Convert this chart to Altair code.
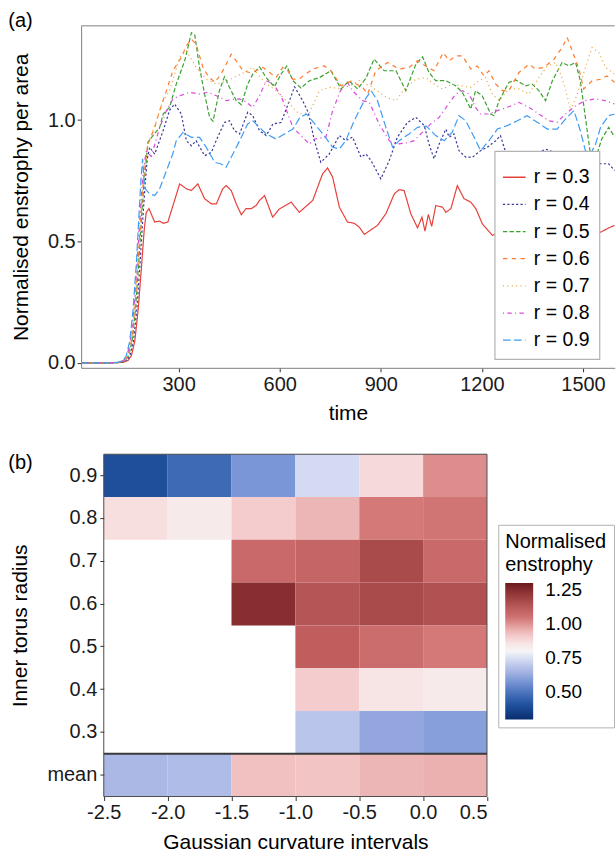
import altair as alt
import pandas as pd

FONT = "Liberation Sans"

# ---------------- panel (a): enstrophy time series ----------------
series_labels = ["r = 0.3", "r = 0.4", "r = 0.5", "r = 0.6", "r = 0.7", "r = 0.8", "r = 0.9"]
series_colors = ["#e8403a", "#38389c", "#3aa231", "#ff7a2a", "#e6aa3e", "#d94ad8", "#3e9cf5"]
series_dashes = [[1, 0], [2.2, 2.2], [4.4, 2.2], [4.4, 4.4], [1.1, 3.3], [1.1, 3.3, 4.4, 3.3], [7.7, 3.3]]

r03 = [(10, 0), (100, 0), (135, 0.002), (150, 0.01), (160, 0.03), (170, 0.09), (180, 0.22), (190, 0.40),
       (198, 0.55), (204, 0.62), (212, 0.635), (229, 0.58), (244, 0.584), (254, 0.575), (268, 0.58),
       (288, 0.669), (303, 0.737), (323, 0.717), (338, 0.71), (357, 0.737), (377, 0.676), (397, 0.655),
       (412, 0.655), (431, 0.717), (441, 0.73), (456, 0.71), (471, 0.655), (486, 0.61), (500, 0.635),
       (515, 0.635), (530, 0.648), (540, 0.669), (555, 0.689), (579, 0.60), (599, 0.634), (634, 0.662),
       (658, 0.62), (698, 0.669), (727, 0.778), (742, 0.803), (757, 0.765), (777, 0.641), (801, 0.58),
       (821, 0.575), (836, 0.559), (851, 0.529), (871, 0.548), (890, 0.566), (915, 0.614), (940, 0.696),
       (954, 0.713), (969, 0.71), (989, 0.614), (1009, 0.556), (1022, 0.60), (1031, 0.543), (1041, 0.611),
       (1051, 0.562), (1063, 0.648), (1083, 0.641), (1093, 0.62), (1108, 0.635), (1127, 0.73), (1147, 0.676),
       (1167, 0.662), (1182, 0.635), (1201, 0.573), (1231, 0.525), (1280, 0.55), (1340, 0.58), (1400, 0.56),
       (1460, 0.59), (1510, 0.55), (1552, 0.538), (1575, 0.555), (1594, 0.566)]

r04 = [(10, 0), (100, 0), (130, 0.002), (146, 0.01), (156, 0.03), (166, 0.09), (176, 0.22), (186, 0.42),
       (194, 0.60), (201, 0.74), (207, 0.84), (214, 0.888), (229, 0.86), (254, 0.956), (273, 1.04),
       (288, 1.066), (308, 1.025), (323, 0.915), (338, 0.894), (352, 0.915), (377, 0.853), (397, 0.867),
       (416, 0.93), (436, 0.99), (451, 0.997), (466, 0.956), (481, 0.943), (505, 1.032), (520, 1.018),
       (540, 0.956), (560, 0.936), (580, 0.984), (604, 0.99), (629, 1.08), (644, 1.137), (668, 1.08),
       (685, 1.03), (703, 0.915), (722, 0.826), (747, 0.86), (777, 0.936), (796, 0.915), (816, 0.93),
       (841, 0.847), (856, 0.86), (871, 0.833), (900, 0.758), (925, 0.833), (949, 0.929), (979, 0.99),
       (1004, 1.011), (1029, 0.977), (1043, 0.901), (1058, 0.84), (1073, 0.901), (1093, 0.963), (1103, 0.929),
       (1117, 0.943), (1132, 0.874), (1152, 0.847), (1172, 0.847), (1196, 0.874), (1216, 0.888), (1241, 0.915),
       (1255, 0.936), (1270, 0.87), (1300, 0.84), (1340, 0.85), (1389, 0.88), (1430, 0.86), (1470, 0.84),
       (1510, 0.85), (1552, 0.82), (1576, 0.82), (1594, 0.792)]

r05 = [(10, 0), (100, 0), (126, 0.002), (142, 0.01), (152, 0.03), (162, 0.09), (172, 0.22), (182, 0.42),
       (190, 0.60), (197, 0.74), (203, 0.82), (209, 0.91), (224, 0.936), (244, 0.97), (254, 1.025),
       (273, 1.052), (293, 1.148), (318, 1.244), (338, 1.36), (348, 1.35), (362, 1.217), (377, 1.107),
       (392, 1.011), (402, 0.995), (421, 1.121), (436, 1.178), (451, 1.134), (471, 1.08), (486, 1.063),
       (505, 1.148), (520, 1.189), (540, 1.219), (560, 1.175), (584, 1.137), (604, 1.189), (621, 1.223),
       (639, 1.162), (663, 1.132), (688, 1.162), (718, 1.175), (752, 1.203), (782, 1.128), (806, 1.162),
       (831, 1.128), (856, 1.173), (880, 1.251), (910, 1.203), (945, 1.203), (974, 1.121), (1004, 1.23),
       (1024, 1.26), (1043, 1.196), (1063, 1.162), (1093, 1.162), (1122, 1.141), (1142, 1.114), (1167, 1.045),
       (1181, 1.121), (1201, 1.10), (1226, 1.025), (1236, 1.018), (1251, 1.08), (1280, 1.155), (1300, 1.165),
       (1330, 1.141), (1349, 1.148), (1369, 1.121), (1389, 1.08), (1409, 1.162), (1438, 1.237), (1458, 1.223),
       (1478, 1.237), (1492, 1.162), (1507, 1.011), (1522, 0.86), (1537, 0.84), (1555, 0.92), (1576, 0.97),
       (1594, 0.93)]

r06 = [(10, 0), (100, 0), (124, 0.002), (140, 0.01), (150, 0.03), (160, 0.09), (170, 0.22), (180, 0.42),
       (188, 0.60), (195, 0.74), (201, 0.82), (209, 0.90), (229, 0.97), (244, 1.04), (264, 1.121),
       (283, 1.203), (308, 1.258), (323, 1.306), (338, 1.333), (352, 1.312), (372, 1.217), (387, 1.182),
       (407, 1.155), (426, 1.189), (441, 1.23), (456, 1.271), (471, 1.244), (491, 1.203), (510, 1.196),
       (530, 1.203), (550, 1.217), (570, 1.196), (589, 1.175), (609, 1.217), (624, 1.203), (639, 1.168),
       (658, 1.17), (698, 1.21), (732, 1.223), (752, 1.203), (782, 1.141), (812, 1.16), (846, 1.135),
       (861, 1.107), (885, 1.203), (920, 1.237), (954, 1.21), (984, 1.217), (1009, 1.244), (1033, 1.223),
       (1058, 1.203), (1085, 1.278), (1103, 1.244), (1122, 1.264), (1142, 1.264), (1167, 1.21), (1186, 1.223),
       (1206, 1.182), (1221, 1.203), (1241, 1.148), (1261, 1.121), (1280, 1.121), (1310, 1.196), (1340, 1.23),
       (1359, 1.21), (1384, 1.217), (1414, 1.251), (1438, 1.299), (1453, 1.34), (1468, 1.285), (1488, 1.21),
       (1502, 1.128), (1527, 1.162), (1552, 1.168), (1571, 1.182), (1594, 1.155)]

r07 = [(10, 0), (100, 0), (124, 0.002), (139, 0.01), (149, 0.03), (159, 0.09), (169, 0.22), (179, 0.42),
       (187, 0.60), (194, 0.74), (200, 0.82), (209, 0.90), (234, 0.997), (254, 1.08), (273, 1.12),
       (303, 1.258), (323, 1.285), (352, 1.217), (382, 1.168), (412, 1.148), (441, 1.16), (471, 1.18),
       (500, 1.20), (520, 1.217), (540, 1.18), (560, 1.15), (589, 1.121), (619, 1.08), (658, 1.025),
       (688, 1.03), (718, 1.121), (747, 1.135), (777, 1.13), (806, 1.14), (836, 1.162), (875, 1.135),
       (915, 1.094), (945, 1.08), (974, 1.135), (1004, 1.168), (1033, 1.175), (1058, 1.148), (1083, 1.128),
       (1112, 1.148), (1142, 1.14), (1167, 1.135), (1191, 1.162), (1211, 1.175), (1231, 1.107), (1251, 1.08),
       (1280, 1.128), (1310, 1.128), (1340, 1.107), (1369, 1.175), (1394, 1.223), (1419, 1.237), (1433, 1.19),
       (1448, 1.128), (1463, 1.039), (1483, 1.107), (1507, 1.217), (1527, 1.299), (1547, 1.278), (1567, 1.217),
       (1594, 1.189)]

r08 = [(10, 0), (100, 0), (122, 0.002), (137, 0.01), (147, 0.03), (157, 0.09), (167, 0.22), (177, 0.42),
       (185, 0.60), (192, 0.74), (198, 0.82), (204, 0.87), (219, 0.85), (244, 0.97), (264, 1.039),
       (283, 1.087), (303, 1.10), (333, 1.114), (362, 1.107), (387, 1.115), (412, 1.10), (441, 1.08),
       (461, 1.085), (481, 1.087), (500, 1.075), (520, 1.052), (540, 1.10), (560, 1.162), (580, 1.15),
       (604, 1.10), (639, 0.97), (668, 0.929), (688, 0.901), (703, 0.922), (737, 0.929), (757, 1.039),
       (780, 1.12), (801, 1.155), (816, 1.121), (846, 1.08), (866, 1.073), (895, 0.984), (925, 0.915),
       (949, 0.901), (974, 0.905), (999, 0.915), (1024, 0.95), (1048, 0.984), (1073, 1.011), (1098, 1.06),
       (1122, 1.107), (1142, 1.121), (1162, 1.107), (1181, 1.052), (1196, 1.025), (1221, 1.025), (1246, 1.039),
       (1280, 1.055), (1310, 1.073), (1340, 1.052), (1369, 1.025), (1399, 0.997), (1423, 0.991), (1448, 1.025),
       (1478, 1.059), (1507, 1.08), (1537, 1.087), (1566, 1.08), (1594, 1.066)]

r09 = [(10, 0), (100, 0), (120, 0.002), (135, 0.01), (145, 0.03), (155, 0.09), (165, 0.22), (175, 0.42),
       (182, 0.60), (188, 0.75), (193, 0.84), (199, 0.72), (214, 0.696), (229, 0.689), (244, 0.718),
       (264, 0.792), (283, 0.862), (293, 0.915), (313, 0.949), (338, 0.929), (362, 0.929), (382, 0.888),
       (407, 0.826), (426, 0.819), (441, 0.806), (461, 0.86), (481, 0.915), (505, 0.984), (520, 0.997),
       (540, 0.97), (560, 0.943), (589, 0.922), (614, 0.943), (639, 0.963), (660, 1.011), (680, 1.025),
       (708, 0.977), (732, 0.936), (757, 0.888), (777, 0.881), (796, 0.915), (821, 0.997), (851, 1.08),
       (871, 1.121), (890, 1.08), (915, 0.97), (935, 0.888), (954, 0.915), (984, 0.943), (1009, 0.97),
       (1035, 0.975), (1063, 0.936), (1088, 0.915), (1112, 0.95), (1132, 1.018), (1152, 0.997), (1177, 0.929),
       (1196, 0.874), (1221, 0.915), (1246, 0.963), (1275, 0.977), (1305, 0.997), (1334, 1.018), (1364, 0.991),
       (1394, 0.963), (1423, 0.963), (1448, 1.004), (1473, 1.039), (1492, 0.956), (1507, 0.874), (1522, 0.86),
       (1537, 0.90), (1552, 0.97), (1576, 1.018), (1594, 1.025)]

all_series = [r03, r04, r05, r06, r07, r08, r09]
line_rows = []
for lab, pts in zip(series_labels, all_series):
    for t, v in pts:
        line_rows.append({"series": lab, "time": t, "enstrophy": v})
lines_df = pd.DataFrame(line_rows)
legend_df = pd.DataFrame({"series": series_labels})

x_ticks_a = [300, 600, 900, 1200, 1500]
y_ticks_a = [0.0, 0.5, 1.0]

# ---------------- panel (b): heatmap ----------------
curv_lo = [-2.5, -2.0, -1.5, -1.0, -0.5, 0.0]
curv_hi = [-2.0, -1.5, -1.0, -0.5, 0.0, 0.5]
row_labels = ["0.9", "0.8", "0.7", "0.6", "0.5", "0.4", "0.3", "mean"]
vals_09 = [0.40, 0.47, 0.58, 0.74, 0.88, 1.01]
vals_08 = [0.87, 0.84, 0.91, 0.95, 1.04, 1.05]
vals_07 = [None, None, 1.08, 1.09, 1.17, 1.08]
vals_06 = [None, None, 1.25, 1.14, 1.17, 1.15]
vals_05 = [None, None, None, 1.11, 1.07, 1.04]
vals_04 = [None, None, None, 0.91, 0.86, 0.84]
vals_03 = [None, None, None, 0.69, 0.62, 0.60]
vals_mean = [0.66, 0.67, 0.93, 0.925, 0.95, 0.96]
x_ticks_b = [-2.5, -2.0, -1.5, -1.0, -0.5, 0.0, 0.5]
legend_ticks_b = [0.5, 0.75, 1.0, 1.25]

heat_rows = []
for lab, vals in zip(row_labels, [vals_09, vals_08, vals_07, vals_06, vals_05, vals_04, vals_03, vals_mean]):
    for lo, hi, v in zip(curv_lo, curv_hi, vals):
        if v is not None:
            heat_rows.append({"row": lab, "lo": lo, "hi": hi, "value": v})
heat_df = pd.DataFrame(heat_rows)

color_stops = [0.296, 0.40, 0.47, 0.58, 0.66, 0.74, 0.80, 0.86, 0.91, 0.96, 1.04, 1.11, 1.17, 1.25, 1.305]
color_range = ["#0b2d6f", "#1f4f9b", "#3d69b5", "#7b96d6", "#abb8e6", "#d3daf2", "#f5f5f7", "#f7e4e4",
               "#f5cccd", "#ebb0b0", "#d47878", "#c05e5e", "#a94b4b", "#882e30", "#6a1a1c"]

# ---------------- layout constants ----------------
TOP_W, TOP_H = 534.7, 342.7
BOT_W, BOT_H = 406.7, 343
X_LEFT_B = -2.5 - 22.7 / 128.0

one = pd.DataFrame({"k": [0]})
color_scale = alt.Scale(domain=series_labels, range=series_colors)
dash_scale = alt.Scale(domain=series_labels, range=series_dashes)

lines = alt.Chart(lines_df).mark_line(strokeWidth=1.2, clip=True).encode(
    x=alt.X("time:Q",
            scale=alt.Scale(domain=[10.7, 1594], nice=False, zero=False),
            axis=alt.Axis(values=x_ticks_a, title="time", format="d", grid=False,
                          titleY=51.6, titleBaseline="alphabetic", labelPadding=2.5)),
    y=alt.Y("enstrophy:Q",
            scale=alt.Scale(domain=[-0.0205, 1.388], nice=False, zero=False),
            axis=alt.Axis(values=y_ticks_a, format=".1f", title="Normalised enstrophy per area", grid=False,
                          titleX=-54, titleY=TOP_H / 2, titleBaseline="alphabetic", labelPadding=2)),
    color=alt.Color("series:N", scale=color_scale, legend=None),
    strokeDash=alt.StrokeDash("series:N", scale=dash_scale, legend=None),
)

top_border = alt.Chart(one).mark_rule(color="#808080", strokeWidth=1).encode(
    x=alt.value(0), x2=alt.value(TOP_W), y=alt.value(0))

legend_box = alt.Chart(one).mark_rect(fill="white", stroke="#b3b3b3", strokeWidth=1.2).encode(
    x=alt.value(414.7), x2=alt.value(519.7), y=alt.value(125.7), y2=alt.value(334.3))

legend_y = alt.Y("series:N", scale=alt.Scale(type="point", domain=series_labels, range=[151.7, 315], padding=0),
                 axis=None)
legend_sym = alt.Chart(legend_df).mark_rule(strokeWidth=1.3).encode(
    x=alt.value(422.7), x2=alt.value(445.4), y=legend_y,
    color=alt.Color("series:N", scale=color_scale, legend=None),
    strokeDash=alt.StrokeDash("series:N", scale=dash_scale, legend=None))
legend_txt = alt.Chart(legend_df).mark_text(align="left", baseline="middle", fontSize=19.5, font=FONT,
                                            color="black").encode(
    x=alt.value(453.7), y=legend_y, text="series:N")

tag_a = alt.Chart(pd.DataFrame({"tag": ["(a)"]})).mark_text(
    align="left", baseline="alphabetic", fontSize=20, font=FONT, color="black").encode(
    text="tag:N", x=alt.value(-73), y=alt.value(1))

top = alt.layer(lines, top_border, legend_box, legend_sym, legend_txt, tag_a).resolve_scale(
    y="independent").properties(width=TOP_W, height=TOP_H, view=alt.ViewBackground(stroke=None))

heat = alt.Chart(heat_df).mark_rect().encode(
    x=alt.X("lo:Q", scale=alt.Scale(domain=[X_LEFT_B, 0.5], nice=False, zero=False),
            axis=alt.Axis(values=x_ticks_b, title="Gaussian curvature intervals", grid=False,
                          labelExpr="datum.value < 0 ? '-' + format(-datum.value, '.1f') : format(datum.value, '.1f')",
                          titleX=22.7 + 192, titleY=52, titleBaseline="alphabetic", labelPadding=2.5,
                          domain=False)),
    x2="hi:Q",
    y=alt.Y("row:O", scale=alt.Scale(domain=row_labels, paddingInner=0, paddingOuter=0),
            axis=alt.Axis(title="Inner torus radius", titleX=-77.3, titleY=BOT_H / 2, offset=-22.7,
                          titleBaseline="alphabetic", labelPadding=3, domain=False)),
    color=alt.Color("value:Q",
                    scale=alt.Scale(domain=color_stops, range=color_range, interpolate="rgb"),
                    legend=alt.Legend(orient="none", legendX=418, legendY=70.7,
                                      title=["Normalised", "enstrophy"], titleFontSize=20,
                                      titleLineHeight=23.4, titlePadding=8,
                                      values=legend_ticks_b, format=".2f", labelFontSize=19,
                                      gradientLength=136.7, gradientThickness=28,
                                      gradientStrokeWidth=0, labelOffset=12, padding=7,
                                      fillColor="white", strokeColor="#b3b3b3")),
)

heat_border = alt.Chart(one).mark_rect(fillOpacity=0, stroke="#4d4d4d", strokeWidth=1).encode(
    x=alt.datum(-2.5), x2=alt.datum(0.5), y=alt.value(0), y2=alt.value(BOT_H))

sep = alt.Chart(one).mark_rule(color="#3a3a3a", strokeWidth=2.2).encode(
    x=alt.datum(-2.5), x2=alt.datum(0.5), y=alt.value(BOT_H * 7 / 8))

tag_b = alt.Chart(pd.DataFrame({"tag": ["(b)"]})).mark_text(
    align="left", baseline="alphabetic", fontSize=20, font=FONT, color="black").encode(
    text="tag:N", x=alt.value(-73), y=alt.value(14.8))

bottom = alt.layer(heat, heat_border, sep, tag_b).properties(
    width=BOT_W, height=BOT_H, view=alt.ViewBackground(stroke=None))

chart = alt.vconcat(top, bottom, spacing=28.3).properties(
    padding={"left": 8.3, "top": 10, "right": 0, "bottom": 0}
).configure(font=FONT).configure_axis(
    labelFont=FONT, titleFont=FONT, labelFontSize=20, titleFontSize=21, labelColor="#1a1a1a",
    titleColor="#000000", titleFontWeight="normal", tickColor="#333333", tickSize=4, tickWidth=1,
    domainColor="#808080", domainWidth=1
).configure_legend(
    labelFont=FONT, titleFont=FONT, labelColor="#000000", titleColor="#000000", titleFontWeight="normal"
)

chart.save("out.html", embed_options={"renderer": "svg", "actions": False})
